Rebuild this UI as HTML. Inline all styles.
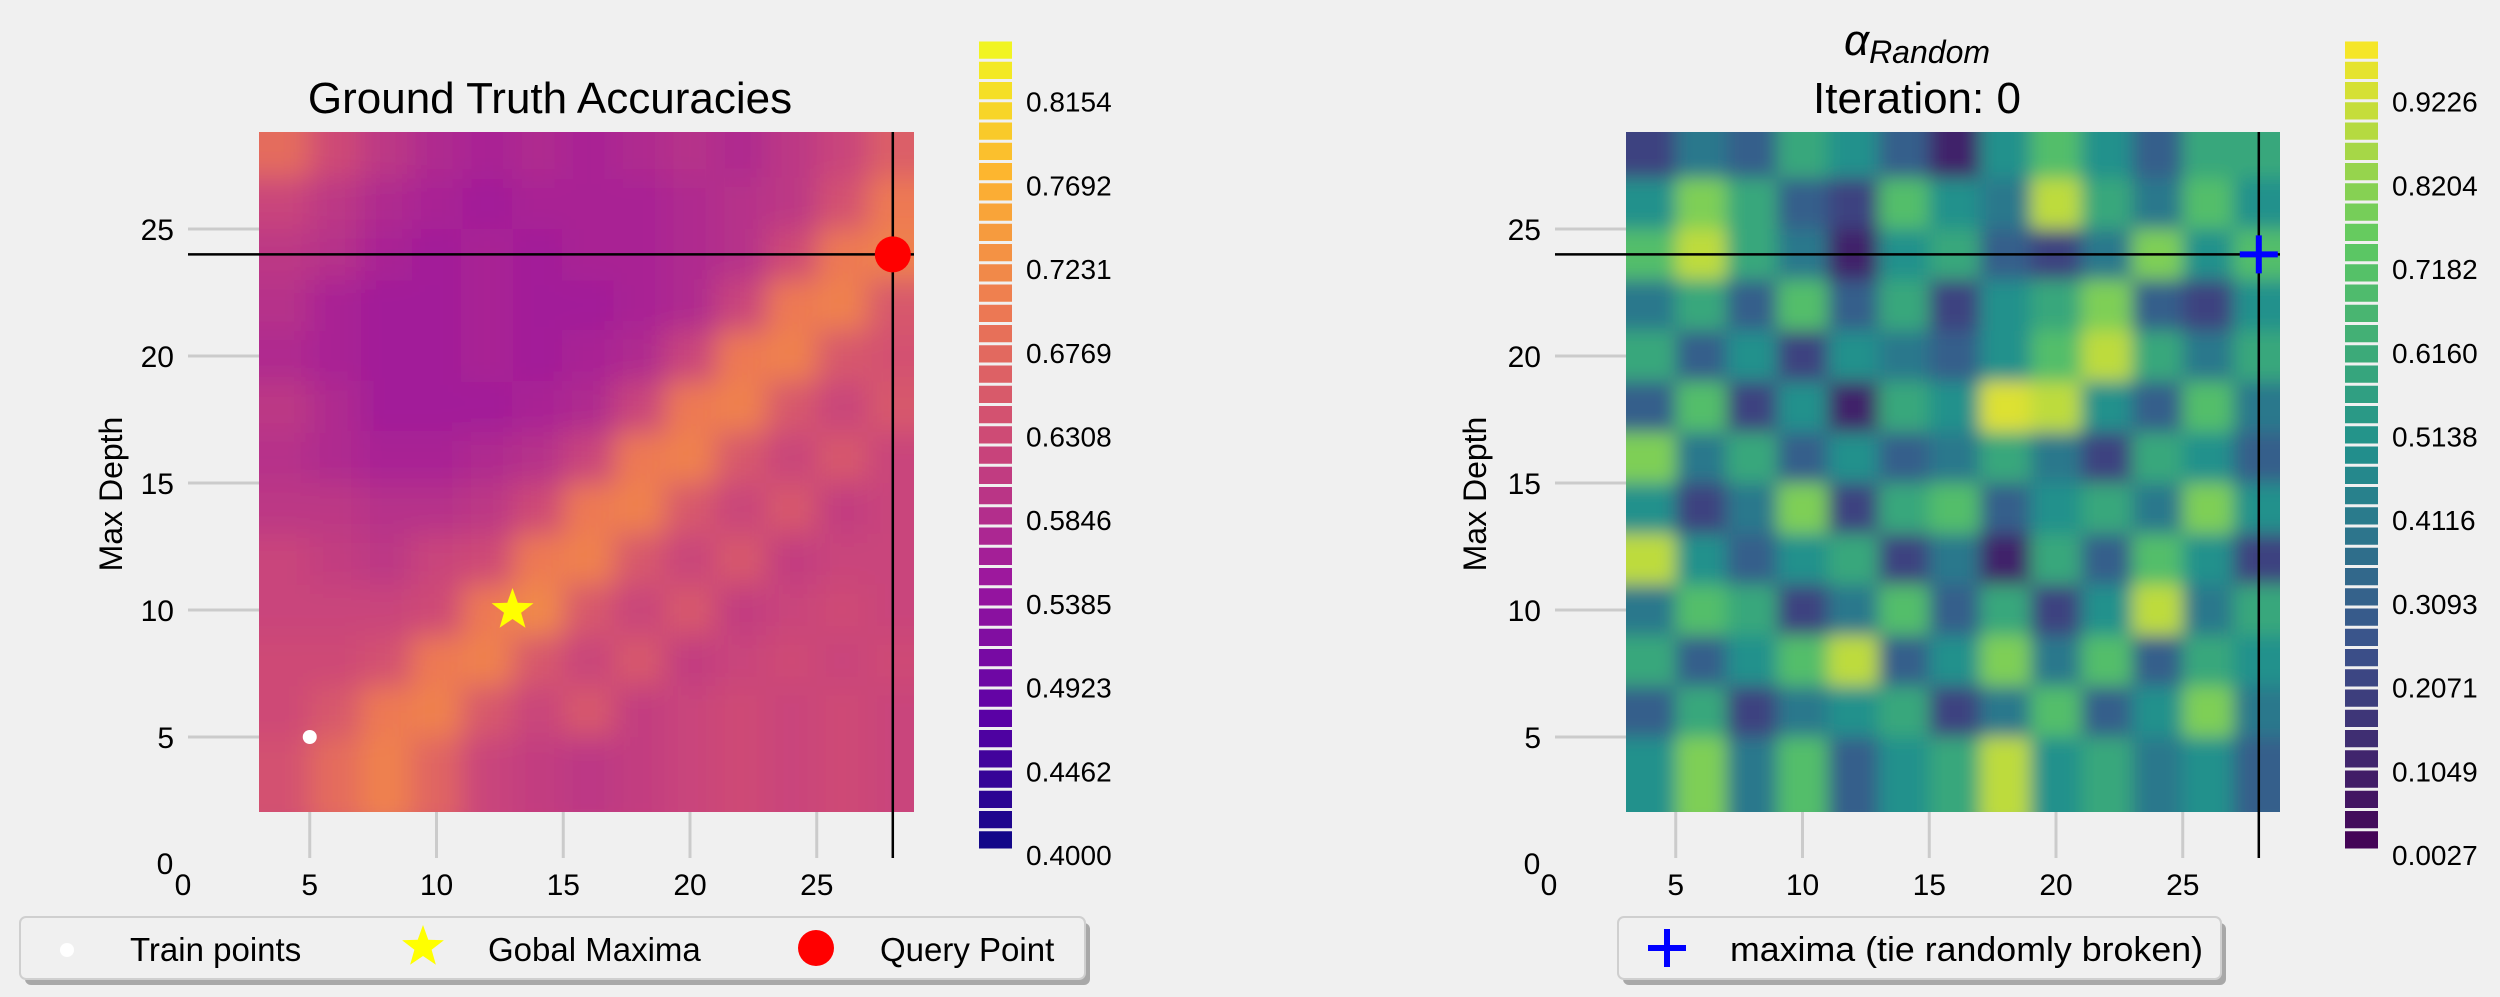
<!DOCTYPE html>
<html><head><meta charset="utf-8"><style>
html,body{margin:0;padding:0;background:#f0f0f0;}
svg{display:block;font-family:"Liberation Sans",sans-serif;}
</style></head><body>
<svg id="fig" width="2500" height="997" viewBox="0 0 2500 997" xmlns="http://www.w3.org/2000/svg">
<defs>
<filter id="blurL" x="-10%" y="-10%" width="120%" height="120%"><feGaussianBlur stdDeviation="14"/></filter>
<filter id="blurR" x="-10%" y="-10%" width="120%" height="120%"><feGaussianBlur stdDeviation="9"/></filter>
<clipPath id="clipL"><rect x="259" y="132" width="655" height="680"/></clipPath>
<clipPath id="clipR"><rect x="1626" y="132" width="654" height="680"/></clipPath>
</defs>
<rect width="2500" height="997" fill="#f0f0f0"/>
<g id="root"></g>
</svg>
<script>
// ---- data ----
const xCenters = [4,6,8,10,12,14,16,18,20,22,24,26,28];
const yCenters = [28,26,24,22,20,18,16,14,12,10,8,6,4];
const gtValues = [
[.68,.63,.6,.58,.57,.58,.57,.58,.59,.58,.6,.62,.66],
[.62,.6,.58,.57,.56,.57,.57,.57,.58,.59,.6,.64,.7],
[.6,.59,.57,.56,.57,.56,.57,.57,.58,.59,.63,.7,.71],
[.59,.57,.56,.56,.57,.56,.56,.57,.58,.62,.7,.71,.65],
[.58,.57,.56,.56,.57,.56,.57,.58,.62,.7,.71,.65,.64],
[.6,.58,.56,.56,.56,.57,.58,.62,.7,.71,.65,.62,.65],
[.59,.58,.57,.57,.58,.59,.62,.7,.71,.65,.62,.65,.62],
[.6,.6,.59,.59,.6,.63,.7,.71,.65,.62,.65,.61,.62],
[.62,.61,.6,.62,.63,.7,.71,.65,.62,.65,.61,.62,.62],
[.62,.62,.62,.63,.7,.72,.65,.62,.65,.61,.62,.63,.62],
[.63,.63,.64,.7,.71,.65,.62,.65,.61,.62,.63,.62,.63],
[.63,.65,.7,.71,.65,.62,.65,.61,.62,.63,.62,.63,.62],
[.64,.68,.71,.67,.62,.61,.6,.61,.62,.63,.62,.63,.62]
];
const rndValues = [
[.2,.4,.3,.6,.5,.3,.1,.5,.7,.5,.3,.6,.6],
[.5,.8,.6,.3,.2,.7,.5,.4,.9,.6,.4,.7,.5],
[.7,.9,.6,.4,.1,.5,.6,.3,.2,.4,.8,.5,.7],
[.4,.6,.3,.7,.3,.6,.2,.5,.6,.8,.3,.2,.5],
[.6,.3,.5,.2,.5,.4,.3,.5,.7,.9,.6,.4,.6],
[.3,.7,.2,.5,.1,.6,.5,.95,.9,.5,.3,.7,.4],
[.8,.4,.6,.3,.5,.3,.4,.6,.4,.2,.6,.5,.3],
[.5,.2,.4,.8,.2,.6,.7,.3,.5,.6,.4,.8,.5],
[.9,.5,.3,.5,.6,.2,.4,.1,.6,.3,.7,.5,.2],
[.4,.7,.6,.2,.4,.7,.3,.6,.2,.5,.9,.4,.6],
[.6,.3,.5,.7,.9,.3,.5,.8,.4,.7,.3,.6,.5],
[.3,.6,.2,.4,.5,.6,.2,.4,.7,.3,.5,.8,.4],
[.5,.8,.4,.7,.3,.5,.6,.9,.5,.6,.4,.5,.3]
];
const yTicks = [0,5,10,15,20,25];
const xTicks = [0,5,10,15,20,25];
const cbLeftLabels = ["0.8154","0.7692","0.7231","0.6769","0.6308","0.5846","0.5385","0.4923","0.4462","0.4000"];
const cbRightLabels = ["0.9226","0.8204","0.7182","0.6160","0.5138","0.4116","0.3093","0.2071","0.1049","0.0027"];
const trainPoints = [[5,5]];
const globalMax = [13,10];
const queryPoint = [28,24];

// ---- helpers ----
const NS="http://www.w3.org/2000/svg";
const root=document.getElementById('root');
function el(tag,attrs,parent){const e=document.createElementNS(NS,tag);for(const k in attrs)e.setAttribute(k,attrs[k]);(parent||root).appendChild(e);return e;}
function lerpCmap(stops,t){t=Math.max(0,Math.min(1,t));const n=stops.length-1;const i=Math.min(n-1,Math.floor(t*n));const f=t*n-i;
 const a=stops[i],b=stops[i+1];const h=s=>[parseInt(s.substr(1,2),16),parseInt(s.substr(3,2),16),parseInt(s.substr(5,2),16)];
 const A=h(a),B=h(b);return 'rgb('+A.map((v,j)=>Math.round(v+(B[j]-v)*f)).join(',')+')';}
const plasma=["#0d0887","#5c01a6","#9c179e","#cc4778","#ed7953","#fdb42f","#f0f921"];
const viridis=["#440154","#3b528b","#21918c","#5ec962","#fde725"];
const UX=25.35, UY=25.4;
function axes(x0){return {sx:v=>x0+v*UX, sy:v=>864-v*UY};}
const L=axes(183), R=axes(1549);

function drawPanel(ax,imgX,imgW,values,cmapStops,vmin,vmax,clip,blur,prefix){
 const g=el('g',{});
 
 
 yTicks.forEach(t=>{ if(t===0)return;
  const ln=el('line',{x1:imgX-71,x2:imgX+imgW,y1:ax.sy(t),y2:ax.sy(t),stroke:'#cbcbcb','stroke-width':3},g);
  
  
  const tx=el('text',{x:imgX-85,y:ax.sy(t)+11,'text-anchor':'end','font-size':30,fill:'#000'},g);
  tx.textContent=t;
  
  
 });
 xTicks.forEach(t=>{
  if(t>0){const ln=el('line',{x1:ax.sx(t),x2:ax.sx(t),y1:132,y2:858,stroke:'#cbcbcb','stroke-width':3},g);
  
  }
  const tx=el('text',{x:ax.sx(t),y:895,'text-anchor':'middle','font-size':30,fill:'#000'},g);
  tx.textContent=t;
  
  
 });
 const z=el('text',{x:imgX-94,y:874,'text-anchor':'middle','font-size':30},g);
 z.textContent='0';
 
 
 const hm=el('g',{'clip-path':'url(#'+clip+')'},g);
 
 
 const inner=el('g',{filter:'url(#'+blur+')'},hm);
 el('rect',{x:imgX-40,y:92,width:imgW+80,height:760,fill:lerpCmap(cmapStops,0.5)},inner);
 values.forEach((row,r)=>row.forEach((v,c)=>{
  const cx=ax.sx(xCenters[c]), cy=ax.sy(yCenters[r]);
  let x1=cx-UX, x2=cx+UX, y1=cy-UY, y2=cy+UY;
  if(c===0)x1-=40; if(c===row.length-1)x2+=40; if(r===0)y1-=40; if(r===values.length-1)y2+=40;
  const cell=el('rect',{x:x1,y:y1,width:x2-x1,height:y2-y1,fill:lerpCmap(cmapStops,(v-vmin)/(vmax-vmin))},inner);
  
  
 }));
 const h=el('line',{x1:imgX-71,x2:imgX+imgW,y1:ax.sy(queryPoint[1]),y2:ax.sy(queryPoint[1]),stroke:'#000','stroke-width':2.5},g);
 
 
 const v=el('line',{x1:ax.sx(queryPoint[0]),x2:ax.sx(queryPoint[0]),y1:132,y2:858,stroke:'#000','stroke-width':2.5},g);
 
 
 return g;
}
drawPanel(L,259,655,gtValues,plasma,0.4,0.85,'clipL','blurL','ground-truth');
drawPanel(R,1626,654,rndValues,viridis,0.0,1.0,'clipR','blurR','alpha-random');

trainPoints.forEach(p=>{const c=el('circle',{cx:L.sx(p[0]),cy:L.sy(p[1]),r:7,fill:'#fff'});
 
 });
function starPath(cx,cy,R1,R2){let d='';for(let i=0;i<10;i++){const a=-Math.PI/2+i*Math.PI/5;const r=i%2?R2:R1;d+=(i?'L':'M')+(cx+r*Math.cos(a)).toFixed(1)+','+(cy+r*Math.sin(a)).toFixed(1);}return d+'Z';}
const st=el('path',{d:starPath(L.sx(globalMax[0]),L.sy(globalMax[1]),22,9),fill:'#ffff00'});


const qp=el('circle',{cx:L.sx(queryPoint[0]),cy:L.sy(queryPoint[1]),r:18,fill:'#ff0000'});


const px=R.sx(queryPoint[0]), py=R.sy(queryPoint[1]);
const pl=el('path',{d:`M${px-19},${py}H${px+19}M${px},${py-19}V${py+19}`,stroke:'#0000ff','stroke-width':6,fill:'none'});



function colorbar(x,stops,labels,name){
 const g=el('g',{});
 
 
 const N=40, top=40, bot=850, h=(bot-top)/N;
 for(let i=0;i<N;i++){
  const r=el('rect',{x:x,y:bot-(i+1)*h+1.5,width:33,height:h-3,fill:lerpCmap(stops,(i+0.5)/N)},g);
  
  
 }
 labels.forEach((t,i)=>{
  const y=855-(labels.length-1-i)*83.7;
  const tx=el('text',{x:x+47,y:y+10,'font-size':28},g);
  tx.textContent=t;
  
  
 });
}
colorbar(979,plasma,cbLeftLabels,'colorbar-ground-truth');
colorbar(2345,viridis,cbRightLabels,'colorbar-alpha');

function txt(x,y,s,size,name,extra){const t=el('text',Object.assign({x:x,y:y,'font-size':size,'text-anchor':'middle',fill:'#000'},extra||{}));t.textContent=s;
 
 return t;}
txt(550,113,'Ground Truth Accuracies',44,'left-title');
txt(1917,113,'Iteration: 0',44,'right-title');
const at=el('text',{x:1917,y:55,'font-size':44,'text-anchor':'middle','font-style':'italic'});


at.innerHTML='α<tspan font-size="32" dy="8">Random</tspan>';
txt(112,494,'Max Depth',32,'y-axis-title',{transform:'rotate(-90 112 494)',dy:10});
txt(1476,494,'Max Depth',32,'y-axis-title-right',{transform:'rotate(-90 1476 494)',dy:10});
txt(550,950,'# of Trees',30,'x-axis-title');
txt(1917,950,'# of Trees',30,'x-axis-title-right');

function legendBox(x,y,w,h,name){
 const g=el('g',{});
 
 
 el('rect',{x:x+5,y:y+6,width:w,height:h,rx:6,fill:'#a8a8a8'},g);
 el('rect',{x:x,y:y,width:w,height:h,rx:6,fill:'#f0f0f0',stroke:'#cfcfcf','stroke-width':2},g);
 return g;
}
const lg=legendBox(20,917,1065,62,'legend-left');
el('ellipse',{cx:67,cy:950,rx:7,ry:7,fill:'#fff'},lg);
let t1=el('text',{x:130,y:961,'font-size':33},lg); t1.textContent='Train points';
el('path',{d:starPath(423,947,22,9),fill:'#ffff00'},lg);
let t2=el('text',{x:488,y:961,'font-size':33},lg); t2.textContent='Gobal Maxima';
el('circle',{cx:816,cy:948,r:18,fill:'#ff0000'},lg);
let t3=el('text',{x:880,y:961,'font-size':33},lg); t3.textContent='Query Point';
const lg2=legendBox(1618,917,603,62,'legend-right');
el('path',{d:'M1648,948H1686M1667,929V967',stroke:'#0000ff','stroke-width':6},lg2);
let t4=el('text',{x:1730,y:961,'font-size':34,textLength:473,lengthAdjust:'spacingAndGlyphs'},lg2); t4.textContent='maxima (tie randomly broken)';
</script>
</body></html>
